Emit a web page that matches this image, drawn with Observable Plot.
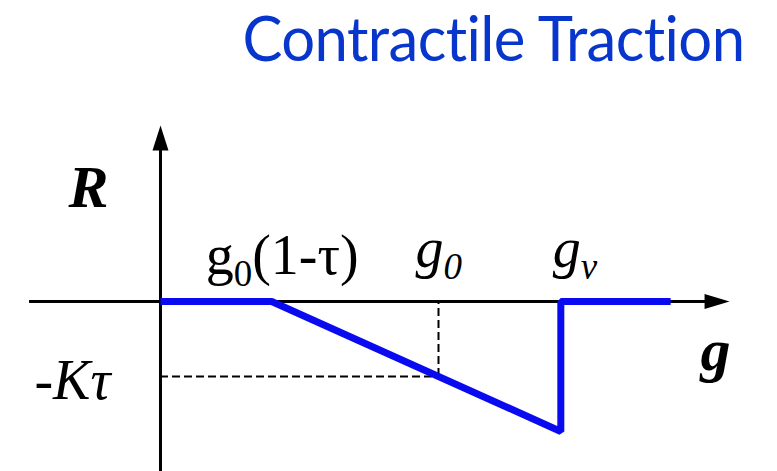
<!DOCTYPE html>
<html>
<head>
<meta charset="utf-8">
<script src="https://cdn.jsdelivr.net/npm/d3@7"></script>
<script src="https://cdn.jsdelivr.net/npm/@observablehq/plot@0.6"></script>
<style>
  html, body { margin: 0; padding: 0; background: #fff; }
</style>
</head>
<body>
<div id="chart"></div>
<script>
// ---- data (schematic: traction R versus gap g) ----
const title = "Contractile Traction";
const curveG = [0, 0.4, 1.44, 1.44, 1.835];     // g along the blue curve
const curveR = [0, 0, -1.733, 0, 0];            // R along the blue curve
const tickG = [0.4, 1.0, 1.44];                 // g0(1-τ), g0, gv
const tickLabels = ["g_0(1-τ)", "g_0", "g_v"];
const levelR = -1;                              // -Kτ
const levelLabel = "-Kτ";
const axisLabelX = "g";
const axisLabelY = "R";
const xDomain = [-0.5755, 2.2194];
const yDomain = [-2.267, 4.013];
const xAxisExtent = [-0.471, 2.047];            // left end, arrow tip
const yAxisExtent = [-2.267, 2.347];            // bottom end, arrow tip

const curve = curveG.map((g, i) => ({g, R: curveR[i]}));

const AH_LEN = 25, AH_W = 16;
const arrowUp = {draw(c) { c.moveTo(0, 0); c.lineTo(AH_W / 2, AH_LEN); c.lineTo(-AH_W / 2, AH_LEN); c.closePath(); }};
const arrowRight = {draw(c) { c.moveTo(0, 0); c.lineTo(-AH_LEN, AH_W / 2 - 0.5); c.lineTo(-AH_LEN, -AH_W / 2 + 0.5); c.closePath(); }};
const xPerPx = (xDomain[1] - xDomain[0]) / 777;
const yPerPx = (yDomain[1] - yDomain[0]) / 471;

const serif = "'Liberation Serif', 'Times New Roman', serif";
const blue = "#0a0af0";

const plot = Plot.plot({
  width: 777,
  height: 471,
  margin: 0,
  x: {domain: xDomain, axis: null},
  y: {domain: yDomain, axis: null},
  style: {background: "white"},
  marks: [
    // axes
    Plot.ruleY([0], {x1: xAxisExtent[0], x2: xAxisExtent[1] - AH_LEN * xPerPx + 1 * xPerPx, stroke: "black", strokeWidth: 3}),
    Plot.ruleX([0], {y1: yAxisExtent[0], y2: yAxisExtent[1] - AH_LEN * yPerPx + 1 * yPerPx, stroke: "black", strokeWidth: 3}),
    Plot.dot([0], {x: xAxisExtent[1], y: 0, symbol: arrowRight, fill: "black", stroke: "none"}),
    Plot.dot([0], {x: 0, y: yAxisExtent[1], symbol: arrowUp, fill: "black", stroke: "none"}),
    // dashed guides
    Plot.ruleY([levelR], {x1: 0, x2: tickG[1], stroke: "black", strokeWidth: 2, strokeDasharray: "8,4"}),
    Plot.ruleX([tickG[1]], {y1: levelR, y2: 0, stroke: "black", strokeWidth: 2, strokeDasharray: "8,4"}),
    // curve
    Plot.line(curve, {x: "g", y: "R", stroke: blue, strokeWidth: 7, strokeLinejoin: "miter", strokeLinecap: "butt"}),
    // tick labels
    Plot.text([tickLabels[0]], {x: tickG[0], y: 0, text: d => d, textAnchor: "start", lineAnchor: "bottom", dx: -66, dy: -27, fontFamily: serif, fontSize: 56, fill: "black"}),
    Plot.text([tickLabels[1]], {x: tickG[1], y: 0, text: d => d, textAnchor: "start", lineAnchor: "bottom", dx: -23, dy: -34, fontFamily: serif, fontStyle: "italic", fontSize: 56, fill: "black"}),
    Plot.text([tickLabels[2]], {x: tickG[2], y: 0, text: d => d, textAnchor: "start", lineAnchor: "bottom", dx: -8, dy: -34, fontFamily: serif, fontStyle: "italic", fontSize: 56, fill: "black"}),
    Plot.text([levelLabel], {x: 0, y: levelR, text: d => d, textAnchor: "end", lineAnchor: "bottom", dx: -50, dy: 23, fontFamily: serif, fontStyle: "italic", fontSize: 56, fill: "black"}),
    // axis labels
    Plot.text([axisLabelY], {x: 0, y: 0, text: d => d, textAnchor: "start", lineAnchor: "bottom", dx: -92, dy: -94, fontFamily: serif, fontStyle: "italic", fontWeight: "bold", fontSize: 60, fill: "black"}),
    Plot.text([axisLabelX], {x: xAxisExtent[1], y: 0, text: d => d, textAnchor: "end", lineAnchor: "bottom", dx: 1, dy: 69, fontFamily: serif, fontStyle: "italic", fontWeight: "bold", fontSize: 60, fill: "black"}),
    // title
    Plot.text([title], {frameAnchor: "top-left", text: d => d, textAnchor: "start", lineAnchor: "bottom", dx: 242, dy: 60, fontFamily: "Lato, 'Open Sans', sans-serif", fontSize: 62, fill: "#0836cc"})
  ]
});

// subscripts: "a_b..." -> a<sub>b</sub>...
d3.select(plot).selectAll("text").each(function () {
  const t = this.textContent;
  const m = t.match(/^(.*?)_(.)(.*)$/);
  if (!m) return;
  const fs = parseFloat(this.parentNode.getAttribute("font-size")) || 56;
  const sel = d3.select(this);
  sel.text(null);
  sel.append("tspan").text(m[1]);
  sel.append("tspan").attr("font-size", fs * 0.66).attr("dy", fs * 0.2).text(m[2]);
  if (m[3]) sel.append("tspan").attr("dy", -fs * 0.2).text(m[3]);
});
// title: no ligatures, fixed width
d3.select(plot).selectAll("text").filter(function () { return this.textContent === title; })
  .style("font-variant-ligatures", "none")
  .style("font-feature-settings", "'liga' 0, 'clig' 0, 'calt' 0, 'dlig' 0")
  .attr("letter-spacing", "-0.6")
  .attr("textLength", 502).attr("lengthAdjust", "spacingAndGlyphs");

document.getElementById("chart").append(plot);
</script>
</body>
</html>
